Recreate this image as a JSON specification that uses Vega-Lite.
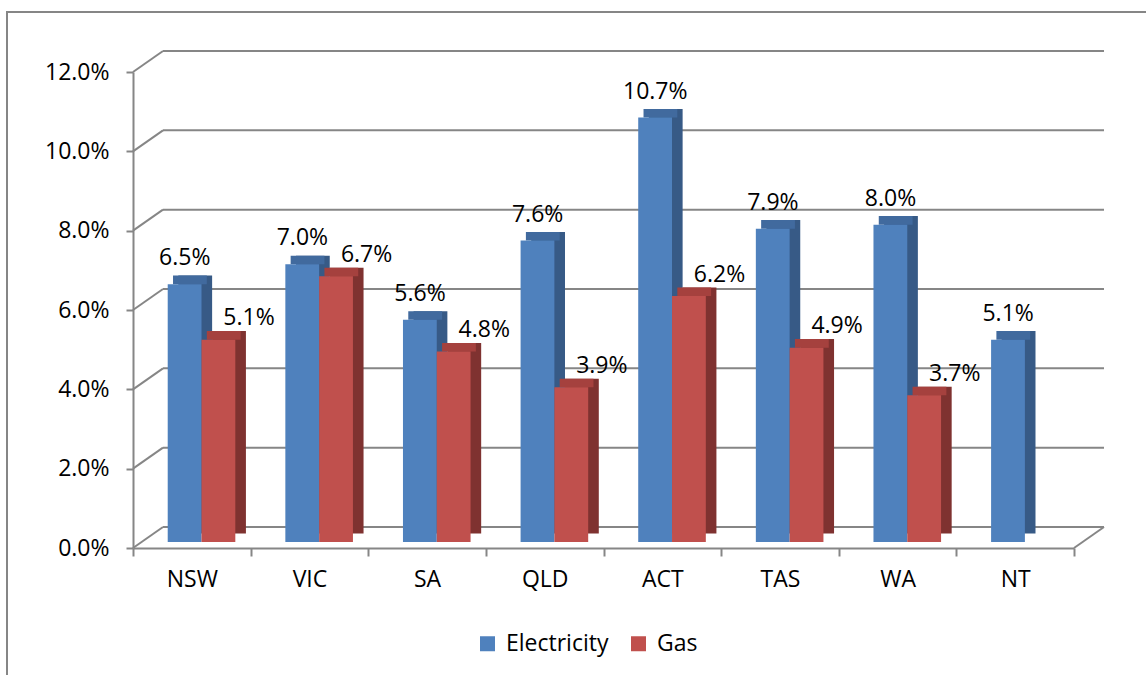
{
  "$schema": "https://vega.github.io/schema/vega-lite/v6.json",
  "width": 941,
  "height": 476,
  "autosize": {"type": "none"},
  "padding": {"left": 133, "top": 72, "right": 72, "bottom": 127},
  "background": "white",
  "config": {
    "view": {"stroke": null},
    "font": "Open Sans",
    "axis": {
      "grid": false,
      "title": null,
      "domainColor": "#868686",
      "domainWidth": 2,
      "tickColor": "#868686",
      "tickWidth": 2,
      "labelFont": "Open Sans",
      "labelFontSize": 23,
      "labelColor": "#000000",
      "labelOverlap": false
    },
    "axisX": {"tickBand": "extent", "tickSize": 8, "labelPadding": 12, "labelAngle": 0},
    "axisY": {"tickSize": 7, "labelPadding": 17}
  },
  "resolve": {"scale": {"xOffset": "independent"}},
  "datasets": {
    "bars": [
      {"state": "NSW", "series": "Electricity", "value": 0.065},
      {"state": "NSW", "series": "Gas", "value": 0.051},
      {"state": "VIC", "series": "Electricity", "value": 0.070},
      {"state": "VIC", "series": "Gas", "value": 0.067},
      {"state": "SA", "series": "Electricity", "value": 0.056},
      {"state": "SA", "series": "Gas", "value": 0.048},
      {"state": "QLD", "series": "Electricity", "value": 0.076},
      {"state": "QLD", "series": "Gas", "value": 0.039},
      {"state": "ACT", "series": "Electricity", "value": 0.107},
      {"state": "ACT", "series": "Gas", "value": 0.062},
      {"state": "TAS", "series": "Electricity", "value": 0.079},
      {"state": "TAS", "series": "Gas", "value": 0.049},
      {"state": "WA", "series": "Electricity", "value": 0.080},
      {"state": "WA", "series": "Gas", "value": 0.037},
      {"state": "NT", "series": "Electricity", "value": 0.051}
    ],
    "ticks": [
      {"v": 0}, {"v": 0.02}, {"v": 0.04}, {"v": 0.06}, {"v": 0.08}, {"v": 0.10}, {"v": 0.12}
    ]
  },
  "layer": [
    {
      "data": {"name": "ticks"},
      "transform": [{"filter": "datum.v === 0"}],
      "mark": {"type": "rect", "filled": false, "stroke": "#868686", "strokeWidth": 2, "xOffset": -126, "x2Offset": 90, "yOffset": -60, "y2Offset": 140},
      "encoding": {
        "x": {"datum": "NSW", "type": "nominal", "bandPosition": 0},
        "x2": {"datum": "NT", "bandPosition": 1},
        "y": {"datum": 0.12, "type": "quantitative"},
        "y2": {"datum": 0}
      }
    },
    {
      "data": {"name": "ticks"},
      "mark": {"type": "rule", "color": "#868686", "strokeWidth": 2, "xOffset": 30, "x2Offset": 30, "yOffset": -21},
      "encoding": {
        "x": {"datum": "NSW", "type": "nominal", "bandPosition": 0},
        "x2": {"datum": "NT", "bandPosition": 1},
        "y": {"field": "v", "type": "quantitative"}
      }
    },
    {
      "data": {"name": "ticks"},
      "mark": {"type": "rule", "color": "#868686", "strokeWidth": 2, "x2Offset": 30, "y2Offset": -21},
      "encoding": {
        "x": {"datum": "NSW", "type": "nominal", "bandPosition": 0},
        "x2": {"datum": "NSW", "bandPosition": 0},
        "y": {"field": "v", "type": "quantitative"},
        "y2": {"field": "v"}
      }
    },
    {
      "data": {"name": "ticks"},
      "transform": [{"filter": "datum.v === 0"}],
      "mark": {"type": "rule", "color": "#868686", "strokeWidth": 2, "x2Offset": 30, "y2Offset": -21},
      "encoding": {
        "x": {"datum": "NT", "type": "nominal", "bandPosition": 1},
        "x2": {"datum": "NT", "bandPosition": 1},
        "y": {"field": "v", "type": "quantitative"},
        "y2": {"field": "v"}
      }
    },
    {
      "data": {"name": "bars"},
      "mark": {"type": "bar", "yOffset": -14.6, "y2Offset": -14.6},
      "encoding": {
        "x": {"field": "state", "type": "nominal", "sort": ["NSW", "VIC", "SA", "QLD", "ACT", "TAS", "WA", "NT"], "scale": {"paddingInner": 0, "paddingOuter": 0}},
        "xOffset": {"field": "series", "type": "nominal", "sort": ["Electricity", "Gas"], "scale": {"domain": ["Electricity", "Gas"], "paddingInner": 0, "paddingOuter": 0.74, "align": 0.906}},
        "y": {"field": "value", "type": "quantitative", "scale": {"domain": [0, 0.12], "nice": false}},
        "color": {"condition": {"test": "datum.series === 'Gas'", "value": "#7f3230"}, "value": "#375a86"}
      }
    },
    {
      "data": {"name": "bars"},
      "mark": {"type": "bar", "yOffset": -14.6, "y2Offset": -6},
      "encoding": {
        "x": {"field": "state", "type": "nominal", "sort": ["NSW", "VIC", "SA", "QLD", "ACT", "TAS", "WA", "NT"]},
        "xOffset": {"field": "series", "type": "nominal", "sort": ["Electricity", "Gas"], "scale": {"domain": ["Electricity", "Gas"], "paddingInner": 0, "paddingOuter": 0.74, "align": 0.8}},
        "y": {"field": "value", "type": "quantitative"},
        "y2": {"field": "value"},
        "color": {"condition": {"test": "datum.series === 'Gas'", "value": "#a5413e"}, "value": "#416a9e"}
      }
    },
    {
      "data": {"name": "bars"},
      "mark": {"type": "bar", "yOffset": -6, "y2Offset": -6},
      "encoding": {
        "x": {"field": "state", "type": "nominal", "sort": ["NSW", "VIC", "SA", "QLD", "ACT", "TAS", "WA", "NT"], "axis": {"title": null}},
        "xOffset": {"field": "series", "type": "nominal", "sort": ["Electricity", "Gas"], "scale": {"domain": ["Electricity", "Gas"], "paddingInner": 0, "paddingOuter": 0.74, "align": 0.694}},
        "y": {"field": "value", "type": "quantitative", "axis": {"format": ".1%", "values": [0, 0.02, 0.04, 0.06, 0.08, 0.1, 0.12], "title": null}},
        "color": {
          "field": "series",
          "type": "nominal",
          "scale": {"domain": ["Electricity", "Gas"], "range": ["#4f81bd", "#c0504d"]},
          "legend": {
            "title": null,
            "orient": "none",
            "direction": "horizontal",
            "legendX": 343,
            "legendY": 560,
            "symbolType": "square",
            "symbolSize": 225,
            "symbolStrokeWidth": 0,
            "labelFontSize": 23,
            "labelFont": "Open Sans",
            "labelColor": "#000000",
            "labelOffset": 7,
            "columnPadding": 18,
            "padding": 0
          }
        }
      }
    },
    {
      "data": {"name": "bars"},
      "transform": [{"filter": "datum.series === 'Electricity'"}],
      "mark": {"type": "text", "dy": -32, "baseline": "middle", "fontSize": 23, "font": "Open Sans", "color": "#000000"},
      "encoding": {
        "x": {"field": "state", "type": "nominal", "sort": ["NSW", "VIC", "SA", "QLD", "ACT", "TAS", "WA", "NT"], "bandPosition": 0.44},
        "y": {"field": "value", "type": "quantitative"},
        "text": {"field": "value", "type": "quantitative", "format": ".1%"}
      }
    },
    {
      "data": {"name": "bars"},
      "transform": [{"filter": "datum.series === 'Gas'"}],
      "mark": {"type": "text", "dy": -27.5, "baseline": "middle", "fontSize": 23, "font": "Open Sans", "color": "#000000"},
      "encoding": {
        "x": {"field": "state", "type": "nominal", "sort": ["NSW", "VIC", "SA", "QLD", "ACT", "TAS", "WA", "NT"], "bandPosition": 0.986},
        "y": {"field": "value", "type": "quantitative"},
        "text": {"field": "value", "type": "quantitative", "format": ".1%"}
      }
    }
  ]
}
